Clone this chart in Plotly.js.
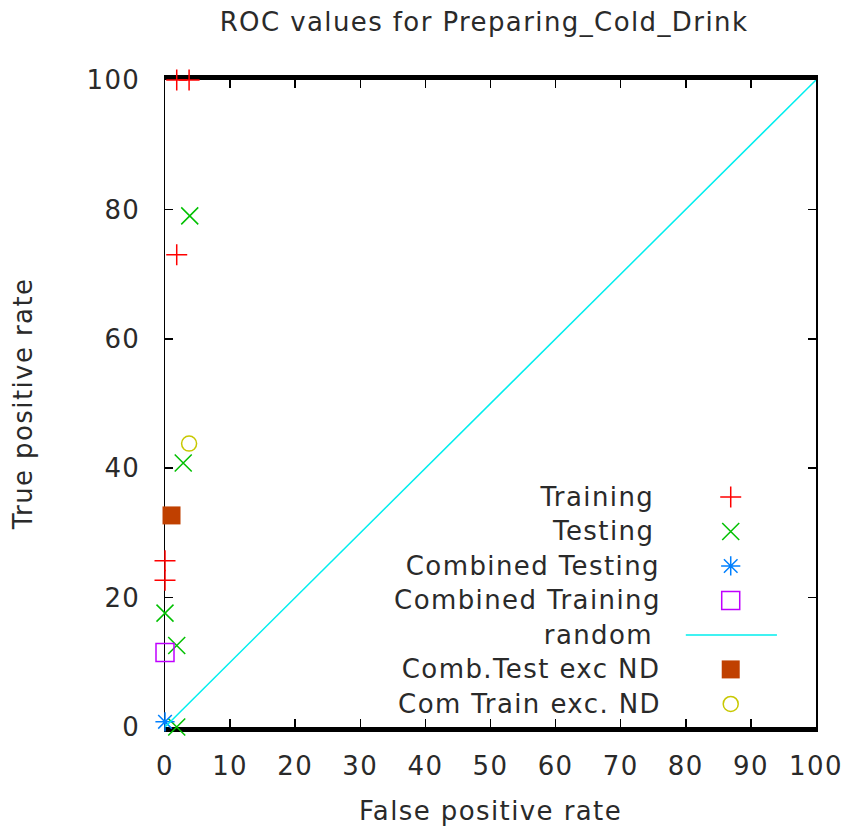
<!DOCTYPE html>
<html>
<head>
<meta charset="utf-8">
<script src="https://cdn.plot.ly/plotly-3.0.1.min.js"></script>
<style>
html, body { margin: 0; padding: 0; background: #fff; }
#chart { width: 844px; height: 828px; }
.main-svg text { letter-spacing: 1.4px; }
</style>
</head>
<body>
<div id="chart"></div>
<script>
// ---- data ----
const trainingFPR = [1.8, 3.7, 1.8, 0, 0];
const trainingTPR = [100, 100, 73, 25.7, 22.7];
const testingFPR = [3.8, 2.8, 0, 1.8, 1.8];
const testingTPR = [79, 40.8, 17.6, 12.6, 0];
const combTestingFPR = [0];
const combTestingTPR = [0.8];
const combTrainingFPR = [0];
const combTrainingTPR = [11.5];
const randomFPR = [0, 100];
const randomTPR = [0, 100];
const combTestExcFPR = [1.0];
const combTestExcTPR = [32.7];
const comTrainExcFPR = [3.7];
const comTrainExcTPR = [43.8];

const seriesNames = ["Training", "Testing", "Combined Testing", "Combined Training",
                     "random", "Comb.Test exc ND", "Com Train exc. ND"];
const xTicks = [0, 10, 20, 30, 40, 50, 60, 70, 80, 90, 100];
const yTicks = [0, 20, 40, 60, 80, 100];

// ---- styles ----
const FONT = "DejaVu Sans";
const FS = 26;
const TXT = "#2a2a2a";
const styles = [
  {mode: "markers", marker: {symbol: "cross-thin-open", size: 15, color: "#ff0000", line: {width: 1.5, color: "#ff0000"}}},
  {mode: "markers", marker: {symbol: "x-thin-open", size: 17, color: "#00c000", line: {width: 1.5, color: "#00c000"}}},
  {mode: "markers", marker: {symbol: "asterisk-open", size: 16, color: "#0080ff", line: {width: 1.5, color: "#0080ff"}}},
  {mode: "markers", marker: {symbol: "square-open", size: 18, color: "#c000ff", line: {width: 1.5, color: "#c000ff"}}},
  {mode: "lines", line: {color: "#00eeee", width: 1.5}},
  {mode: "markers", marker: {symbol: "square", size: 18, color: "#c04000", line: {width: 0}}},
  {mode: "markers", marker: {symbol: "circle-open", size: 15, color: "#c8c800", line: {width: 1.5, color: "#c8c800"}}}
];
const xs = [trainingFPR, testingFPR, combTestingFPR, combTrainingFPR, randomFPR, combTestExcFPR, comTrainExcFPR];
const ys = [trainingTPR, testingTPR, combTestingTPR, combTrainingTPR, randomTPR, combTestExcTPR, comTrainExcTPR];

const traces = [];
for (let i = 0; i < seriesNames.length; i++) {
  traces.push(Object.assign({
    type: "scatter", x: xs[i], y: ys[i], name: seriesNames[i],
    showlegend: false, cliponaxis: false, hoverinfo: "skip"
  }, styles[i]));
}

// ---- gnuplot-style key (text right, sample on the right) ----
const keyTop = 0.3555, keyStep = 0.0533;
const keyTextX = 0.746, keySymX = 0.869, keyLine = [0.800, 0.940];
const annotations = [];
for (let i = 0; i < seriesNames.length; i++) {
  const yy = keyTop - i * keyStep;
  annotations.push({
    xref: "paper", yref: "paper", x: keyTextX, y: yy,
    xanchor: "right", yanchor: "middle", showarrow: false,
    text: seriesNames[i], font: {family: FONT, size: FS, color: TXT}
  });
  const s = styles[i];
  const kx = s.mode === "lines" ? keyLine : [keySymX];
  const ky = s.mode === "lines" ? [yy, yy] : [yy];
  traces.push(Object.assign({
    type: "scatter", x: kx, y: ky, xaxis: "x2", yaxis: "y2",
    showlegend: false, cliponaxis: false, hoverinfo: "skip"
  }, s));
}

const layout = {
  width: 844, height: 828,
  margin: {l: 165, r: 28, t: 80, b: 101},
  paper_bgcolor: "#ffffff", plot_bgcolor: "#ffffff",
  showlegend: false,
  font: {family: FONT, size: FS, color: TXT},
  title: {
    text: "ROC values for Preparing_Cold_Drink",
    font: {family: FONT, size: FS, color: TXT},
    xref: "paper", x: 0.49, xanchor: "center",
    yref: "container", y: 0.973, yanchor: "middle"
  },
  xaxis: {
    range: [0, 100], tickvals: xTicks, ticktext: xTicks.map(String),
    ticks: "inside", ticklen: 8, tickwidth: 1.5, tickcolor: "#000",
    showline: true, linewidth: 5, linecolor: "#000", mirror: "allticks",
    showgrid: false, zeroline: false, layer: "below traces",
    ticklabelstandoff: 12,
    tickfont: {family: FONT, size: FS, color: TXT},
    title: {text: "False positive rate", font: {family: FONT, size: FS, color: TXT}, standoff: 23},
    automargin: false, fixedrange: true
  },
  yaxis: {
    range: [0, 100], tickvals: yTicks, ticktext: yTicks.map(String),
    ticks: "inside", ticklen: 8, tickwidth: 1.5, tickcolor: "#000",
    showline: true, linewidth: 1.5, linecolor: "#000", mirror: "allticks",
    showgrid: false, zeroline: false, layer: "below traces",
    ticklabelstandoff: 18,
    tickfont: {family: FONT, size: FS, color: TXT},
    title: {text: "True positive rate", font: {family: FONT, size: FS, color: TXT}, standoff: 50},
    automargin: false, fixedrange: true
  },
  xaxis2: {domain: [0, 1], range: [0, 1], overlaying: "x", anchor: "y2", visible: false, fixedrange: true},
  yaxis2: {domain: [0, 1], range: [0, 1], overlaying: "y", anchor: "x2", visible: false, fixedrange: true},
  annotations: annotations
};

Plotly.newPlot("chart", traces, layout, {staticPlot: true, displayModeBar: false});
</script>
</body>
</html>
